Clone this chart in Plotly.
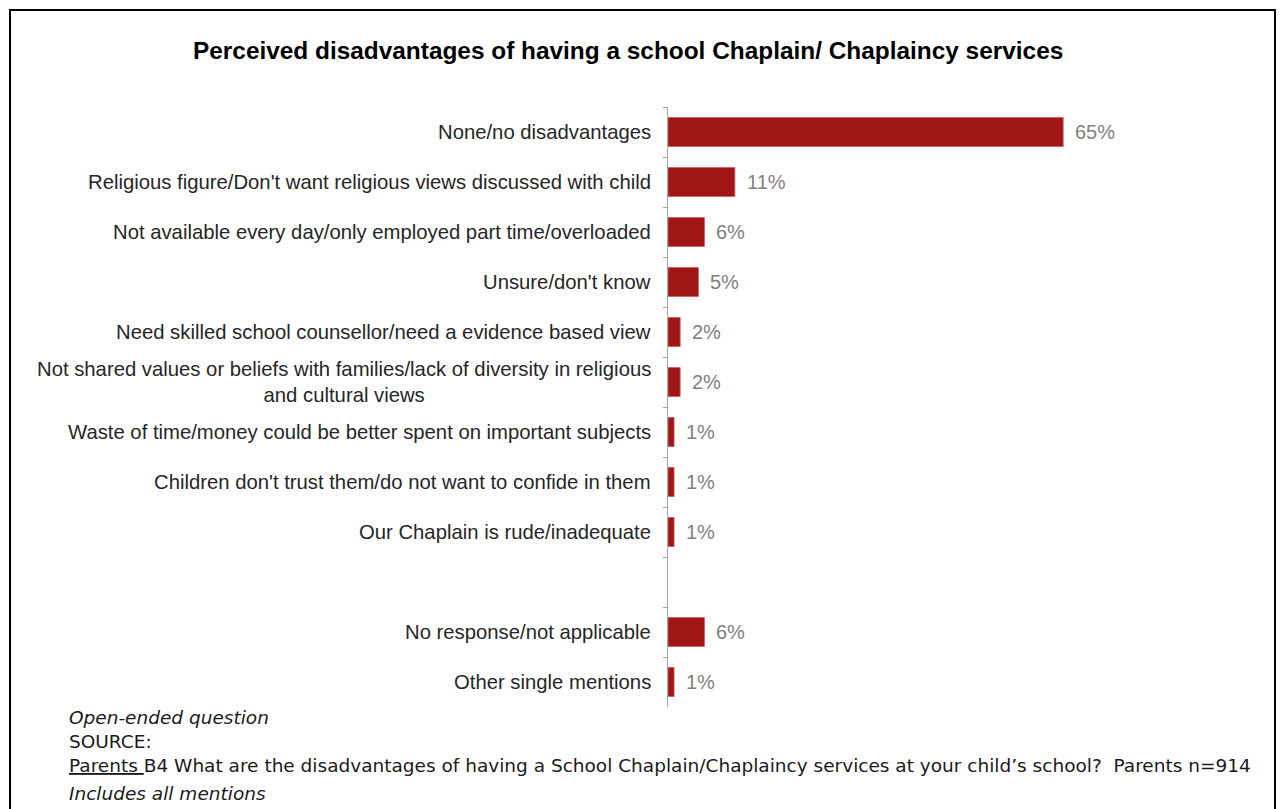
import plotly.graph_objects as go

# Survey categories (top to bottom) and share of mentions in percent
categories = [
    "None/no disadvantages",
    "Religious figure/Don't want religious views discussed with child",
    "Not available every day/only employed part time/overloaded",
    "Unsure/don't know",
    "Need skilled school counsellor/need a evidence based view",
    "Not shared values or beliefs with families/lack of diversity in religious<br>and cultural views",
    "Waste of time/money could be better spent on important subjects",
    "Children don't trust them/do not want to confide in them",
    "Our Chaplain is rude/inadequate",
    " ",
    "No response/not applicable",
    "Other single mentions",
]
values = [65, 11, 6, 5, 2, 2, 1, 1, 1, None, 6, 1]

title_text = "Perceived disadvantages of having a school Chaplain/ Chaplaincy services"
footer_lines = [
    "<i>Open-ended question</i>",
    "SOURCE:",
    "<u>Parents </u>B4 What are the disadvantages of having a School Chaplain/Chaplaincy services at your child\u2019s school?  Parents n=914",
    "<i>Includes all mentions</i>",
]

W, H = 1284, 809
ML, MR, MT, MB = 668, 8, 107, 102
PW, PH = W - ML - MR, H - MT - MB

BAR = "#A01515"
LABEL_FONT = "Liberation Sans, Arial, sans-serif"

fig = go.Figure(
    go.Bar(
        x=values,
        y=categories,
        orientation="h",
        marker=dict(color=BAR, line=dict(color="#C86060", width=0.8)),
        hoverinfo="skip",
    )
)

annotations = []
for cat, val in zip(categories, values):
    if val is None:
        continue
    # category label, right-aligned against the axis
    annotations.append(dict(
        x=0, xref="paper", y=cat, yref="y", xanchor="right", yanchor="middle",
        xshift=-15, text=cat, showarrow=False, align="center",
        font=dict(family=LABEL_FONT, size=20.3, color="#262626"),
    ))
    # value label after the bar end
    annotations.append(dict(
        x=val, xref="x", y=cat, yref="y", xanchor="left", yanchor="middle",
        xshift=10, text=f"{val}%", showarrow=False,
        font=dict(family=LABEL_FONT, size=20, color="#7F7F7F"),
    ))


def px_x(p):
    return (p - ML) / PW


def px_y(p):
    return (H - MB - p) / PH


annotations.append(dict(
    x=px_x(628), xref="paper", y=px_y(50), yref="paper",
    xanchor="center", yanchor="middle", text=f"<b>{title_text}</b>",
    showarrow=False, font=dict(family=LABEL_FONT, size=24.4, color="#000000"),
))

footer_y = [717, 741, 765, 793]
for line, yy in zip(footer_lines, footer_y):
    annotations.append(dict(
        x=px_x(67), xref="paper", y=px_y(yy), yref="paper",
        xanchor="left", yanchor="middle", text=line, showarrow=False,
        font=dict(family="DejaVu Sans, Verdana, sans-serif", size=18.5, color="#1a1a1a"),
    ))

fig.update_layout(
    width=W, height=H,
    margin=dict(l=ML, r=MR, t=MT, b=MB, pad=0),
    paper_bgcolor="white", plot_bgcolor="white",
    showlegend=False,
    bargap=0.42,
    annotations=annotations,
    shapes=[dict(
        type="rect", xref="paper", yref="paper",
        x0=px_x(10), x1=px_x(1275), y0=px_y(830), y1=px_y(10),
        line=dict(color="#000000", width=2), fillcolor="rgba(0,0,0,0)",
        layer="below",
    )],
    xaxis=dict(range=[0, 100], visible=False, fixedrange=True),
    yaxis=dict(
        categoryorder="array", categoryarray=categories, autorange="reversed",
        showticklabels=False, showgrid=False, zeroline=False,
        showline=True, linecolor="#A6A6A6", linewidth=1,
        ticks="outside", ticklen=4, tickcolor="#A6A6A6", tickson="boundaries",
        fixedrange=True,
    ),
)

fig.write_html("out.html")
